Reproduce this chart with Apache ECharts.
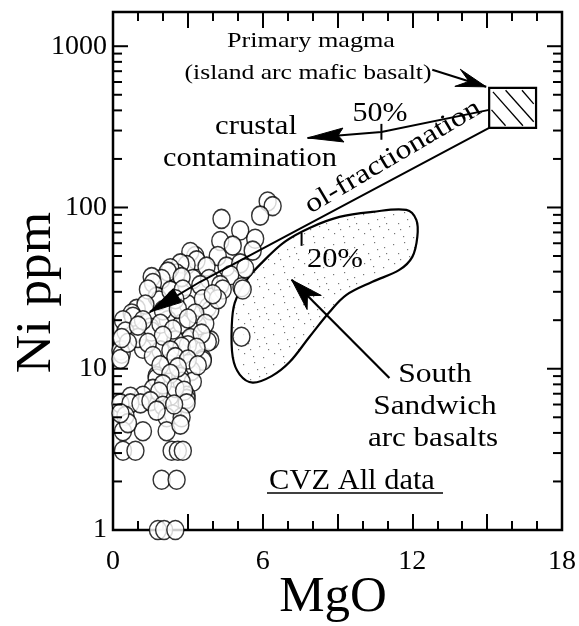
<!DOCTYPE html>
<html><head><meta charset="utf-8">
<script src="https://cdn.jsdelivr.net/npm/echarts@6/dist/echarts.min.js"></script>
<style>html,body{margin:0;padding:0;background:#fff}#c{width:579px;height:626px}</style>
</head><body><div id="c"></div>
<script>
// ---- tick labels ----
const xTickLabels = [0, 6, 12, 18];
const yTickLabels = [1, 10, 100, 1000];
const yMinorTicks = [2,3,4,5,6,7,8,9,20,30,40,50,60,70,80,90,200,300,400,500,600,700,800,900];

// ---- CVZ all data: [MgO wt%, Ni ppm] ----
const cvzUpper = [
 [6.2,109],[6.4,102],[5.9,89],[4.35,85],[5.1,72],[5.7,64],[4.3,62],[4.8,58],[5.6,54],[4.2,50],
 [3.3,50],[3.1,53],[3.35,47],[2.95,44],[2.7,45],[3.75,43],[4.55,43],[5.1,45],[5.3,42],[2.55,39],
 [2.3,42],[2.2,40],[1.95,36],[1.55,37],[1.6,34],[3.2,36],[3.85,36],[2.75,37],[4.7,38],[5.15,32],
 [4.3,33],[3.5,33],[4.4,31],[5.2,31],[1.75,28],[1.85,26.5],[3.0,25],[3.8,24],[3.9,23],[0.95,23.5],
 [3.6,27],[4.2,27],[4.0,29],[2.3,30.5],[2.8,31],[1.4,31],[1.3,25],[2.5,27]
];
const cvzMiddle = [
 [0.75,22],[0.8,21],[0.4,20],[2.2,20],[2.75,19],[3.4,18.5],[1.5,18],[0.5,17],[1.55,17],[3.1,15.5],
 [2.5,15],[3.9,15],[3.8,14.7],[3.0,14],[2.75,13.7],[1.2,13.3],[1.9,13],[0.3,13],[0.35,12.4],[3.6,11.5],
 [0.3,11.5],[3.6,11.2],[2.2,10.7],[3.15,9.7],[1.75,9],[2.7,8.9],[1.75,8.7],[3.2,8.3],[2.75,8.3],[1.6,7.5],
 [2.95,6.8],[2.3,6.8],[1.2,6.8],[0.7,6.7],[2.95,6.5],[5.15,15.8],
 [2.0,23],[3.3,22],[2.6,23.5],[1.2,20],[1.9,19],[3.0,20.5],[3.7,19],[2.4,17.5],[3.55,16.5],[2.0,16],
 [1.0,15.5],[1.4,14.5],[2.3,13],[3.35,13.5],[1.6,12],[2.5,11.8],[3.0,11.4],[1.9,10.5],[2.6,10.2],[2.3,9.3],
 [3.4,10.5],[2.0,8],[2.5,7.6],[1.85,7.2],[0.6,14.5],[0.35,15.5],[1.0,18.5],[2.85,7.3]
];
const cvzLower = [
 [0.3,6.1],[0.7,6.1],[1.1,6.1],[1.5,6.3],[2.0,5.9],[2.95,6.1],[0.5,5.1],[2.4,5.2],[2.15,5.0],[2.75,5.0],
 [0.4,4.1],[1.2,4.1],[2.15,4.1],[0.4,3.1],[0.9,3.1],[2.35,3.1],[2.6,3.1],[2.8,3.1],[1.95,2.05],[2.55,2.05],
 [1.8,1.0],[2.05,1.0],[2.5,1.0],[0.6,4.6],[0.3,5.3],[2.7,4.5],[2.45,6.0],[1.75,5.5]
];

// ---- primary magma box (MgO range, Ni range) ----
const primaryBoxMgO = [15.08, 16.96];
const primaryBoxNi = [312, 552];

// ---- South Sandwich arc basalt field outline [MgO, Ni] ----
const southSandwichField = [
 [6.0,46],[6.88,61.2],[7.88,74.7],[9.08,87.4],[10.4,93.9],[11.76,96.6],[12.16,83.8],[12.2,65.7],
 [12.0,49.4],[11.48,41],[10.4,34.6],[9.36,28.7],[8.68,22.5],[7.88,15.8],[7.08,11],[6.36,9],
 [5.6,8.2],[5.08,9.2],[4.8,11.8],[4.76,18.2],[4.88,25.6],[5.36,35.6]
];

// ---- model paths [MgO, Ni] ----
const olFractionationPath = [[15.08,312],[7.48,73.7],[3.48,34.5],[1.48,22.5]];
const olTick20 = [[7.56,69.6],[7.56,57.8]];
const crustalPath = [[15.08,403],[10.76,294],[7.8,270]];
const crustalTick50 = [[10.76,330],[10.76,263]];
const primaryArrowPath = [[12.8,714],[14.96,560]];
const southArrowPath = [[11.08,8.77],[7.16,35.6]];

// stipple pattern for field
const pat = document.createElement('canvas'); pat.width = 30; pat.height = 30;
(function(){ const g = pat.getContext('2d'); g.fillStyle = '#777';
  [[3,4],[14,2],[24,7],[8,13],[19,16],[28,19],[4,23],[13,26],[23,27],[17,9],[10,19],[26,13]]
   .forEach(p => g.fillRect(p[0], p[1], 1.2, 1.2)); })();

function head(tip, from, len, half, notch) {
  const dx = tip[0]-from[0], dy = tip[1]-from[1], L = Math.hypot(dx, dy);
  const ux = dx/L, uy = dy/L, px = -uy, py = ux;
  const bx = tip[0]-ux*len, by = tip[1]-uy*len;
  const nx = tip[0]-ux*len*notch, ny = tip[1]-uy*len*notch;
  return {type:'polygon', shape:{points:[tip,[bx+px*half,by+py*half],[nx,ny],[bx-px*half,by-py*half]]},
          style:{fill:'#000', stroke:'#000', lineWidth:1}};
}

function renderField(params, api) {
  const pts = southSandwichField.map(p => api.coord(p));
  return {type:'polygon', shape:{points:pts, smooth:0.35},
          style:{fill:{image:pat, repeat:'repeat'}, stroke:'#000', lineWidth:2.2}};
}

function renderLines(params, api) {
  const c = p => api.coord(p);
  const pl = (arr, w) => ({type:'polyline', shape:{points:arr.map(c)}, style:{stroke:'#000', lineWidth:w, fill:null}});
  const ch = [];
  const tl = c([primaryBoxMgO[0], primaryBoxNi[1]]), br = c([primaryBoxMgO[1], primaryBoxNi[0]]);
  const w = br[0]-tl[0], h = br[1]-tl[1];
  ch.push({type:'rect', shape:{x:tl[0], y:tl[1], width:w, height:h}, style:{fill:'#fff', stroke:'#000', lineWidth:2.2}});
  [[[0.08,0.1],[0.72,0.95]],[[0.35,0.06],[0.95,0.85]],[[0.7,0.06],[0.95,0.4]],[[0.05,0.55],[0.35,0.95]]].forEach(s => {
    ch.push({type:'line', shape:{x1:tl[0]+w*s[0][0], y1:tl[1]+h*s[0][1], x2:tl[0]+w*s[1][0], y2:tl[1]+h*s[1][1]}, style:{stroke:'#000', lineWidth:1.3}});
  });
  ch.push(pl(olFractionationPath, 2));
  const of = olFractionationPath.map(c);
  ch.push(head(of[of.length-1], of[of.length-2], 32, 8, 1));
  ch.push(pl(olTick20, 2));
  ch.push(pl(crustalPath, 2));
  const cp = crustalPath.map(c);
  ch.push(head(cp[cp.length-1], cp[cp.length-2], 36, 7, 0.85));
  ch.push(pl(crustalTick50, 2));
  ch.push(pl(primaryArrowPath, 2));
  const pa = primaryArrowPath.map(c);
  ch.push(head(pa[1], pa[0], 30, 9, 0.6));
  ch.push(pl(southArrowPath, 2.2));
  const sa = southArrowPath.map(c);
  ch.push(head(sa[1], sa[0], 32, 10, 0.7));
  return {type:'group', children:ch};
}

function renderYTicks(params, api) {
  const v = api.value(1), major = api.value(2);
  const y = api.coord([0, v])[1];
  const cs = params.coordSys;
  const len = major ? 15 : 9;
  return {type:'group', children:[
    {type:'line', shape:{x1:cs.x, y1:y, x2:cs.x+len, y2:y}, style:{stroke:'#000', lineWidth:2}},
    {type:'line', shape:{x1:cs.x+cs.width-len, y1:y, x2:cs.x+cs.width, y2:y}, style:{stroke:'#000', lineWidth:2}}
  ]};
}

const yTickData = yTickLabels.map(v => [0, v, 1]).concat(yMinorTicks.map(v => [0, v, 0]));

const FONT = '"Liberation Serif", "Times New Roman", serif';
function label(text, x, y, size, sx, rot) {
  return {type:'text', x:x, y:y, rotation:rot||0, scaleX:sx||1, z:100,
    style:{text:text, fontSize:size, fontFamily:FONT, fill:'#000', align:'center', verticalAlign:'middle'}};
}

const xAxisBase = {
  type:'value', min:0, max:18, interval:3,
  axisLine:{show:false}, splitLine:{show:false},
  axisTick:{show:true, inside:true, length:16, lineStyle:{color:'#000', width:2}},
  minorTick:{show:true, splitNumber:3, length:9, lineStyle:{color:'#000', width:2}}
};

const chart = echarts.init(document.getElementById('c'), null, {renderer:'canvas'});
chart.setOption({
  animation:false,
  backgroundColor:'#fff',
  grid:{left:113, right:16, top:12, bottom:96, show:true, borderColor:'#000', borderWidth:2.5, backgroundColor:'transparent'},
  xAxis:[
    Object.assign({}, xAxisBase, {position:'bottom',
      axisLabel:{interval:0, margin:18, fontFamily:FONT, fontSize:28, color:'#000',
        formatter: v => xTickLabels.indexOf(v) >= 0 ? String(v) : ''}}),
    Object.assign({}, xAxisBase, {position:'top', axisLabel:{show:false}})
  ],
  yAxis:[{
    type:'log', logBase:10, min:1, max:1630,
    axisLine:{show:false}, axisTick:{show:false}, splitLine:{show:false}, minorTick:{show:false},
    axisLabel:{margin:6, fontFamily:FONT, fontSize:28, color:'#000', showMaxLabel:false,
      formatter: v => { const r = Math.round(v); return yTickLabels.indexOf(r) >= 0 ? String(r) : ''; }}
  }],
  series:[
    {type:'custom', coordinateSystem:'cartesian2d', data:[[0,1]], renderItem:renderField, z:1, silent:true},
    {type:'scatter', data:cvzUpper.concat(cvzMiddle, cvzLower), symbol:'circle', symbolSize:[17,19], clip:false, z:2,
      itemStyle:{color:'#fff', borderColor:'#000', borderWidth:1.5}},
    {type:'custom', coordinateSystem:'cartesian2d', data:[[0,1]], renderItem:renderLines, z:3, silent:true},
    {type:'custom', coordinateSystem:'cartesian2d', data:yTickData, encode:{x:0, y:1}, renderItem:renderYTicks, z:4, silent:true}
  ],
  graphic:[
    label('Primary magma', 311, 41.3, 22, 1.19),
    label('(island arc mafic basalt)', 308, 73.3, 22, 1.165),
    label('50%', 380, 113.8, 27, 1.11),
    label('crustal', 256, 126.8, 27, 1.14),
    label('contamination', 250, 158.8, 27, 1.126),
    label('ol-fractionation', 393, 157, 27, 1.19, 30.5*Math.PI/180),
    label('20%', 335, 259.5, 28, 1.09),
    label('South', 435, 374.8, 27, 1.17),
    label('Sandwich', 435, 406.8, 27, 1.16),
    label('arc basalts', 433, 438.8, 27, 1.15),
    label('CVZ All data', 352, 481, 29, 1.05),
    {type:'line', z:100, shape:{x1:267, y1:493, x2:443, y2:493}, style:{stroke:'#000', lineWidth:1.5}},
    label('MgO', 333, 597.4, 51, 1.0),
    label('Ni ppm', 36.4, 292.5, 51, 1.045, Math.PI/2)
  ]
});
</script>
</body></html>
